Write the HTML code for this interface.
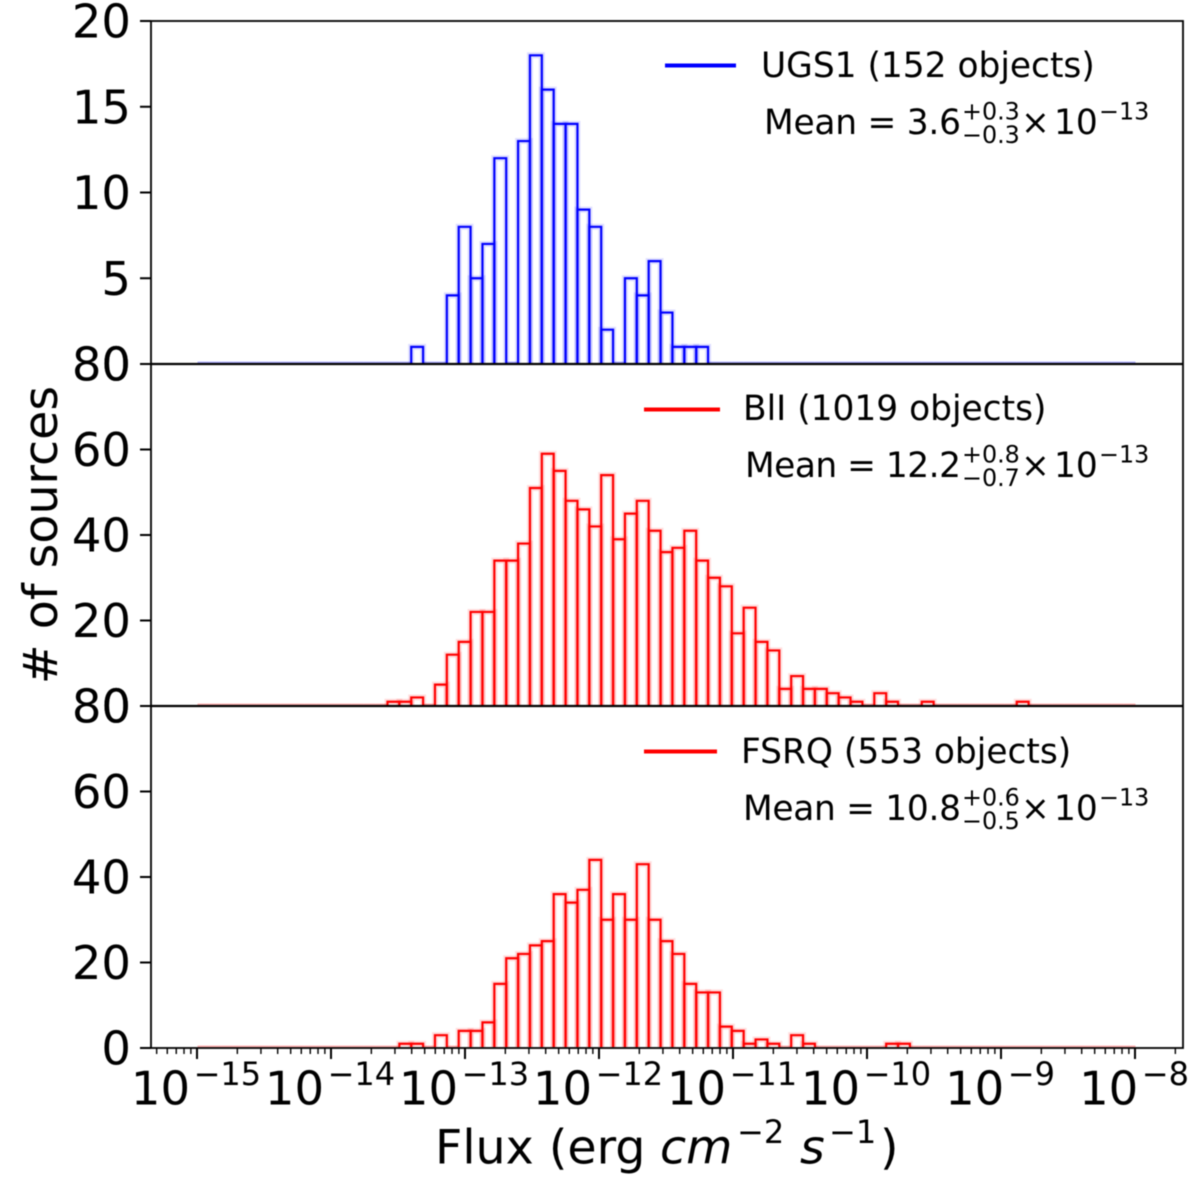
<!DOCTYPE html>
<html lang="en">
<head>
<meta charset="utf-8">
<title>Flux histograms</title>
<style>
html,body{margin:0;padding:0;background:#fff;}
#chart{display:block;width:1200px;height:1183px;filter:blur(0.55px);}
text{font-family:"DejaVu Sans",sans-serif;fill:#000;}
.tick{font-size:46.5px;}
.leg{font-size:34.4px;}
.sm{font-size:23.8px;}
</style>
</head>
<body>
<svg id="chart" xmlns="http://www.w3.org/2000/svg" width="1200" height="1183" viewBox="0 0 1200 1183">
  <rect x="0" y="0" width="1200" height="1183" fill="#fff"/>
  <g id="bars"></g>
  <g id="axes"></g>

  <text transform="translate(57,535) rotate(-90)" text-anchor="middle" font-size="47.5">&#35; of sources</text>
  <text font-size="47.5"><tspan x="435" y="1163.5">Flux (erg</tspan><tspan x="660" y="1163.5" font-style="italic">cm</tspan><tspan x="737" y="1143" font-size="32">&#8722;2</tspan><tspan x="800" y="1163.5" font-style="italic">s</tspan><tspan x="829" y="1143" font-size="32">&#8722;1</tspan><tspan x="880" y="1163.5">)</tspan></text>

  <g>
    <line x1="665" x2="736" y1="65.5" y2="65.5" stroke="#0000ff" stroke-width="4"/>
    <text class="leg" x="761" y="77">UGS1 (152 objects)</text>
    <text class="leg" x="764" y="134" textLength="197" lengthAdjust="spacing">Mean = 3.6</text>
    <text class="sm" x="962" y="119.5">+0.3</text>
    <text class="sm" x="962" y="143">&#8722;0.3</text>
    <text class="leg" x="1021" y="134">&#215;</text>
    <text class="leg" x="1054" y="134">10</text>
    <text class="sm" x="1099" y="119.5">&#8722;13</text>
  </g>
  <g>
    <line x1="644" x2="720" y1="409.5" y2="409.5" stroke="#ff0000" stroke-width="4"/>
    <text class="leg" x="743" y="420">BlI (1019 objects)</text>
    <text class="leg" x="745" y="477" textLength="216" lengthAdjust="spacing">Mean = 12.2</text>
    <text class="sm" x="962" y="462.5">+0.8</text>
    <text class="sm" x="962" y="486">&#8722;0.7</text>
    <text class="leg" x="1021" y="477">&#215;</text>
    <text class="leg" x="1054" y="477">10</text>
    <text class="sm" x="1099" y="462.5">&#8722;13</text>
  </g>
  <g>
    <line x1="644" x2="717" y1="751.5" y2="751.5" stroke="#ff0000" stroke-width="4"/>
    <text class="leg" x="741" y="763">FSRQ (553 objects)</text>
    <text class="leg" x="743" y="820" textLength="218" lengthAdjust="spacing">Mean = 10.8</text>
    <text class="sm" x="962" y="805.5">+0.6</text>
    <text class="sm" x="962" y="829">&#8722;0.5</text>
    <text class="leg" x="1021" y="820">&#215;</text>
    <text class="leg" x="1054" y="820">10</text>
    <text class="sm" x="1099" y="805.5">&#8722;13</text>
  </g>
</svg>
<script>
// Histogram bin counts (79 log-spaced bins from 1e-15 to 1e-8)
const ugsCounts = [
  0,0,0,0,0,0,0,0,0,0,
  0,0,0,0,0,0,0,0,1,0,
  0,4,8,5,7,12,0,13,18,16,
  14,14,9,8,2,0,5,4,6,3,
  1,1,1,0,0,0,0,0,0,0,
  0,0,0,0,0,0,0,0,0,0,
  0,0,0,0,0,0,0,0,0,0,
  0,0,0,0,0,0,0,0,0
];
const bllCounts = [
  0,0,0,0,0,0,0,0,0,0,
  0,0,0,0,0,0,1,1,2,0,
  5,12,15,22,22,34,34,38,51,59,
  55,48,46,42,54,39,45,48,41,36,
  37,41,34,30,28,17,23,15,13,4,
  7,4,4,3,2,1,0,3,1,0,
  0,1,0,0,0,0,0,0,0,1,
  0,0,0,0,0,0,0,0,0
];
const fsrqCounts = [
  0,0,0,0,0,0,0,0,0,0,
  0,0,0,0,0,0,0,1,1,0,
  3,0,4,4,6,15,21,22,24,25,
  36,34,37,44,30,36,30,43,30,25,
  22,15,13,13,5,4,1,2,1,0,
  3,1,0,0,0,0,0,0,1,1,
  0,0,0,0,0,0,0,0,0,0,
  0,0,0,0,0,0,0,0,0
];
const logFluxMin = -15;
const logFluxMax = -8;
const topTicks = [0,5,10,15,20];
const midTicks = [0,20,40,60,80];
const bottomTicks = [0,20,40,60,80];
const xTickExponents = [-15,-14,-13,-12,-11,-10,-9,-8];
const minorMultipliers = [2,3,4,5,6,7,8,9];

const NS = 'http://www.w3.org/2000/svg';
const barsG = document.getElementById('bars');
const axesG = document.getElementById('axes');
const plotLeft = 151, plotRight = 1183;

function xScale(logF){ return 197.5 + (logF + 15) * 134; }
function yScale(panel, v){ return panel.bottom - v * (panel.bottom - panel.top) / panel.max; }

const panels = [
  {key:'ugs', counts:ugsCounts, ticks:topTicks, top:21, bottom:364, max:20, color:'#0000ff'},
  {key:'bll', counts:bllCounts, ticks:midTicks, top:364, bottom:706, max:80, color:'#ff0000'},
  {key:'fsrq', counts:fsrqCounts, ticks:bottomTicks, top:706, bottom:1048, max:80, color:'#ff0000'}
];

function make(tag, attrs, parent){
  const el = document.createElementNS(NS, tag);
  for (const k in attrs) el.setAttribute(k, attrs[k]);
  parent.appendChild(el);
  return el;
}

panels.forEach(function(p){
  const n = p.counts.length;
  const w = (logFluxMax - logFluxMin) / n;
  p.counts.forEach(function(c, i){
    const x0 = xScale(logFluxMin + i * w);
    const x1 = xScale(logFluxMin + (i + 1) * w);
    const y0 = yScale(p, 0) - 1;
    const y1 = c > 0 ? yScale(p, c) : y0;
    const d = 'M' + x0 + ' ' + y0 + 'V' + y1 + 'H' + x1 + 'V' + y0;
    const halo = make('path', {d:d, fill:'none', stroke:p.color, 'stroke-width':c > 0 ? 6 : 3, 'stroke-opacity':c > 0 ? 0.13 : 0.3}, barsG);
    
    
    if (c > 0) {
      const bar = make('path', {d:d, fill:'none', stroke:p.color, 'stroke-width':2.2}, barsG);
      
      
    }
  });

  p.ticks.forEach(function(t){
    const y = yScale(p, t);
    const tick = make('line', {x1:140, x2:plotLeft, y1:y, y2:y, stroke:'#000', 'stroke-width':2}, axesG);
    
    
    const label = make('text', {x:131, y:y + 16.5, 'text-anchor':'end', class:'tick'}, axesG);
    
    
    label.textContent = String(t);
  });
});

// panel frames
const frame = make('rect', {x:plotLeft, y:21, width:plotRight - plotLeft, height:1027, fill:'none', stroke:'#000', 'stroke-width':1.8}, axesG);


[364, 706].forEach(function(y){
  const sep = make('line', {x1:plotLeft, x2:plotRight, y1:y, y2:y, stroke:'#000', 'stroke-width':2.2}, axesG);
  
  
});

// x ticks
xTickExponents.forEach(function(e){
  const x = xScale(e) - 0.5;
  const tick = make('line', {x1:x, x2:x, y1:1048, y2:1059, stroke:'#000', 'stroke-width':2}, axesG);
  
  
  const label = make('text', {x:x - 1, y:1104.5, 'text-anchor':'middle', class:'tick'}, axesG);
  
  
  const base = make('tspan', {}, label);
  base.textContent = '10';
  const sup = make('tspan', {'font-size':32, dy:-19.5, dx:3.5}, label);
  sup.textContent = '\u2212' + Math.abs(e);
});
for (let e = -16; e <= -8; e++){
  minorMultipliers.forEach(function(m){
    const x = xScale(e + Math.log10(m)) - 0.5;
    if (x < plotLeft || x > plotRight) return;
    const tick = make('line', {x1:x, x2:x, y1:1048, y2:1054, stroke:'#000', 'stroke-width':1.4}, axesG);
    
    
  });
}
</script>
</body>
</html>
